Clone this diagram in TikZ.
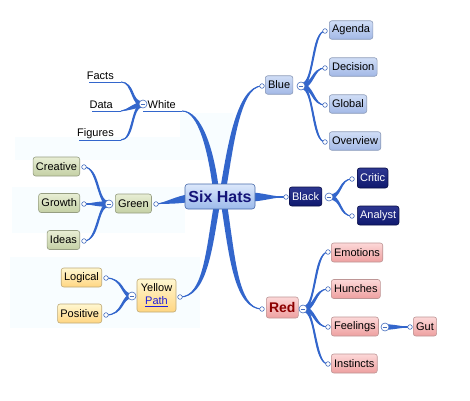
\documentclass[tikz,border=0pt]{standalone}
\usepackage{fontspec}
\setmainfont{Liberation Sans}
\usetikzlibrary{calc,backgrounds}
\definecolor{brcol}{RGB}{51,102,204}
\definecolor{circcol}{RGB}{70,110,190}
\definecolor{bluetop}{RGB}{208,221,246}
\definecolor{bluebot}{RGB}{163,185,230}
\definecolor{bluebd}{RGB}{140,155,185}
\definecolor{blktop}{RGB}{45,55,145}
\definecolor{blkbot}{RGB}{15,25,110}
\definecolor{blkbd}{RGB}{10,15,70}
\definecolor{redtop}{RGB}{252,216,216}
\definecolor{redbot}{RGB}{238,160,160}
\definecolor{redbd}{RGB}{190,150,150}
\definecolor{grntop}{RGB}{232,238,212}
\definecolor{grnbot}{RGB}{196,208,165}
\definecolor{grnbd}{RGB}{150,158,130}
\definecolor{yeltop}{RGB}{255,247,208}
\definecolor{yelbot}{RGB}{255,214,130}
\definecolor{yelbd}{RGB}{190,170,120}
\definecolor{centop}{RGB}{220,232,251}
\definecolor{cenbot}{RGB}{156,186,235}
\definecolor{cenbd}{RGB}{70,105,170}
\definecolor{centxt}{RGB}{20,20,120}
\definecolor{redtxt}{RGB}{140,0,0}
\definecolor{linkcol}{RGB}{30,30,220}
\definecolor{bgband}{RGB}{248,253,255}
\tikzset{
  box/.style={rounded corners=2.5pt, minimum height=18.5pt, inner xsep=2.8pt, inner ysep=1pt, line width=0.6pt, font=\fontsize{11}{13}\selectfont},
  bluebox/.style={box, draw=bluebd, top color=bluetop, bottom color=bluebot},
  blkbox/.style={box, draw=blkbd, top color=blktop, bottom color=blkbot, text=white},
  redbox/.style={box, draw=redbd, top color=redtop, bottom color=redbot},
  grnbox/.style={box, draw=grnbd, top color=grntop, bottom color=grnbot},
  yelbox/.style={box, draw=yelbd, top color=yeltop, bottom color=yelbot},
  cenbox/.style={box, rounded corners=3pt, draw=cenbd, top color=centop, bottom color=cenbot, text=centxt, minimum width=70pt, minimum height=25pt, font=\fontsize{16}{18}\selectfont\bfseries},
  txt/.style={inner sep=0pt, font=\fontsize{11}{13}\selectfont},
  incirc/.style={circle, draw=circcol, fill=white, inner sep=0pt, minimum size=4.6pt, line width=0.6pt},
  colcirc/.style={circle, draw=circcol, fill=white, inner sep=0pt, minimum size=8pt, line width=0.6pt,
    path picture={\draw[circcol, line width=0.6pt] ([xshift=-2.4pt]path picture bounding box.center) -- ([xshift=2.4pt]path picture bounding box.center);}},
  uline/.style={brcol, line width=1pt},
}
\newcommand\brch[6]{%
  \fill[brcol] ($(#1)+#5$) .. controls ($#2+#5$) and ($#3+#6$) .. ($(#4)$) .. controls ($#3-#6$) and ($#2-#5$) .. ($(#1)-#5$) -- cycle;
  \draw[brcol, line width=1.1pt] ($(#1)$) .. controls #2 and #3 .. ($(#4)$);}
\begin{document}
\begin{tikzpicture}[x=1pt,y=-1pt]
\useasboundingbox (0,0) rectangle (470,400);
% central
\node[cenbox] (cen) at (220,196.5) {Six Hats};
\coordinate (cwS) at (216,190);
\coordinate (cbS) at (223,190);
\coordinate (cyS) at (217,204);
\coordinate (crS) at (224,204);
\coordinate (cgS) at (190,198);
\coordinate (ckS) at (250,197);
% blue
\node[bluebox, anchor=west] (blue) at (265,85) {Blue};
\node[incirc] (bluei) at (262,86) {};
\node[colcirc] (bluec) at (301,86) {};
\node[bluebox, anchor=west] (agenda) at (329,30) {Agenda};
\node[bluebox, anchor=west] (decision) at (329,67) {Decision};
\node[bluebox, anchor=west] (global) at (329,104) {Global};
\node[bluebox, anchor=west] (overview) at (329,141) {Overview};
\node[incirc] (agi) at (325,31) {};
\node[incirc] (dei) at (325,68) {};
\node[incirc] (gli) at (325,105) {};
\node[incirc] (ovi) at (325,142) {};
% black
\node[blkbox, anchor=west, minimum height=19pt] (black) at (289,196.5) {Black};
\node[incirc] (blacki) at (286,197) {};
\node[colcirc] (blackc) at (329,197) {};
\node[blkbox, anchor=west, minimum height=20pt] (critic) at (357,178) {Critic};
\node[blkbox, anchor=west, minimum height=19pt] (analyst) at (357,215.5) {Analyst};
\node[incirc] (crii) at (352,179) {};
\node[incirc] (anai) at (352,216) {};
% red
\node[redbox, anchor=west, minimum height=21pt, text=redtxt, font=\fontsize{14}{16}\selectfont\bfseries] (red) at (266,307.5) {Red};
\node[incirc] (redi) at (262,309) {};
\node[colcirc] (redc) at (303,309) {};
\node[redbox, anchor=west, minimum height=19pt] (emotions) at (331,252.5) {Emotions};
\node[redbox, anchor=west, minimum height=19pt] (hunches) at (331,289) {Hunches};
\node[redbox, anchor=west, minimum height=19pt] (feelings) at (331,326.5) {Feelings};
\node[redbox, anchor=west, minimum height=19pt] (instincts) at (331,363.5) {Instincts};
\node[redbox, anchor=west, minimum height=19pt] (gut) at (413,326.5) {Gut};
\node[incirc] (emi) at (328,252) {};
\node[incirc] (hui) at (328,289) {};
\node[incirc] (fei) at (328,327) {};
\node[incirc] (ini) at (328,364) {};
\node[colcirc] (feelc) at (385,327) {};
\node[incirc] (guti) at (410,327) {};
% green
\node[grnbox, anchor=west, minimum height=19pt] (green) at (115,203.5) {Green};
\node[incirc] (greeni) at (156,204) {};
\node[colcirc] (greenc) at (109,204) {};
\node[grnbox, anchor=east, minimum height=19pt] (creative) at (80,166.5) {Creative};
\node[grnbox, anchor=east, minimum height=19pt] (growth) at (80,203) {Growth};
\node[grnbox, anchor=east, minimum height=19pt] (ideas) at (80,240) {Ideas};
\node[incirc] (cri) at (84,167) {};
\node[incirc] (gri) at (84,204) {};
\node[incirc] (idi) at (84,241) {};
% yellow
\node[yelbox, align=center, minimum width=39pt, minimum height=33pt] (yellow) at (156.5,295.5) {Yellow\\\textcolor{linkcol}{\underline{Path}}};
\node[incirc] (yellowi) at (180,297) {};
\node[colcirc] (yelc) at (132,296) {};
\node[yelbox, anchor=east, minimum height=19pt] (logical) at (102,277.5) {Logical};
\node[yelbox, anchor=east, minimum height=19pt] (positive) at (102,313.5) {Positive};
\node[incirc] (logi) at (106,278) {};
\node[incirc] (posi) at (106,315) {};
% white
\node[colcirc] (whitec) at (143,104) {};
\node[txt, anchor=west] (white) at (147.5,104.5) {White};
\node[txt, anchor=east] (facts) at (114,76) {Facts};
\node[txt, anchor=east] (data) at (113,105) {Data};
\node[txt, anchor=east] (figures) at (114,134) {Figures};
\coordinate (whiteL) at (143,111);
\coordinate (whiteR) at (182,111);
\coordinate (factsL) at (89,82);
\coordinate (factsR) at (121,82);
\coordinate (dataL) at (92,111);
\coordinate (dataR) at (121,111);
\coordinate (figL) at (79,140);
\coordinate (figR) at (121,140);
\begin{pgfonlayer}{background}
\fill[white] (0,0) rectangle (470,400);
\fill[bgband] (180,113) rectangle (233,137);
\fill[bgband] (15,137) rectangle (233,160);
\fill[bgband] (12,187) rectangle (185,233);
\fill[bgband] (10,257) rectangle (200,328);
% central branches
\brch{cwS}{(211,150)}{(200,111)}{whiteR}{(3,0)}{(1.8,-0.9)}
\brch{cbS}{(230,150)}{(238,86)}{bluei}{(3,0)}{(1.8,0.9)}
\brch{cyS}{(209,250)}{(205,297)}{yellowi}{(-3,0)}{(-1.8,-0.8)}
\brch{crS}{(232,255)}{(236,309)}{redi}{(-3,0)}{(-1.8,0.8)}
\brch{cgS}{(176,200)}{(166,203)}{greeni}{(0,-4)}{(0,-0.8)}
\brch{ckS}{(262,197)}{(272,197)}{blacki}{(0,4.5)}{(0,0.6)}
% blue fan
\brch{bluec}{(314,86)}{(312,31)}{agi}{(0,2.8)}{(2,0)}
\brch{bluec}{(314,86)}{(312,68)}{dei}{(0,2.8)}{(2,0)}
\brch{bluec}{(314,86)}{(312,105)}{gli}{(0,2.8)}{(-2,0)}
\brch{bluec}{(314,86)}{(312,142)}{ovi}{(0,2.8)}{(-2,0)}
% black fan
\brch{blackc}{(342,197)}{(339,179)}{crii}{(0,2.5)}{(1.6,0)}
\brch{blackc}{(342,197)}{(339,216)}{anai}{(0,2.5)}{(-1.6,0)}
% red fan
\brch{redc}{(316,309)}{(314,252)}{emi}{(0,2.8)}{(2,0)}
\brch{redc}{(316,309)}{(314,289)}{hui}{(0,2.8)}{(2,0)}
\brch{redc}{(316,309)}{(314,327)}{fei}{(0,2.8)}{(-2,0)}
\brch{redc}{(316,309)}{(314,364)}{ini}{(0,2.8)}{(-2,0)}
\brch{feelc}{(393,327)}{(402,327)}{guti}{(0,2.8)}{(0,0.6)}
% green fan
\brch{greenc}{(97,204)}{(99,167)}{cri}{(0,-2.8)}{(2,0)}
\brch{greenc}{(98,204)}{(92,204)}{gri}{(0,-2.8)}{(0,-1)}
\brch{greenc}{(97,204)}{(99,241)}{idi}{(0,-2.8)}{(-2,0)}
% yellow fan
\brch{yelc}{(121,296)}{(124,278)}{logi}{(0,-2.5)}{(1.6,0)}
\brch{yelc}{(121,296)}{(124,315)}{posi}{(0,-2.5)}{(-1.6,0)}
% white fan
\brch{whitec}{(131,105)}{(134,82)}{factsR}{(0,-2.8)}{(2,0)}
\brch{whitec}{(133,106)}{(128,110)}{dataR}{(0,-2.8)}{(0,-1)}
\brch{whitec}{(131,105)}{(134,140)}{figR}{(0,-2.8)}{(-2,0)}
\draw[uline] (whiteL) -- (whiteR);
\draw[uline] (factsL) -- (factsR);
\draw[uline] (dataL) -- (dataR);
\draw[uline] (figL) -- (figR);
\end{pgfonlayer}
\end{tikzpicture}
\end{document}
